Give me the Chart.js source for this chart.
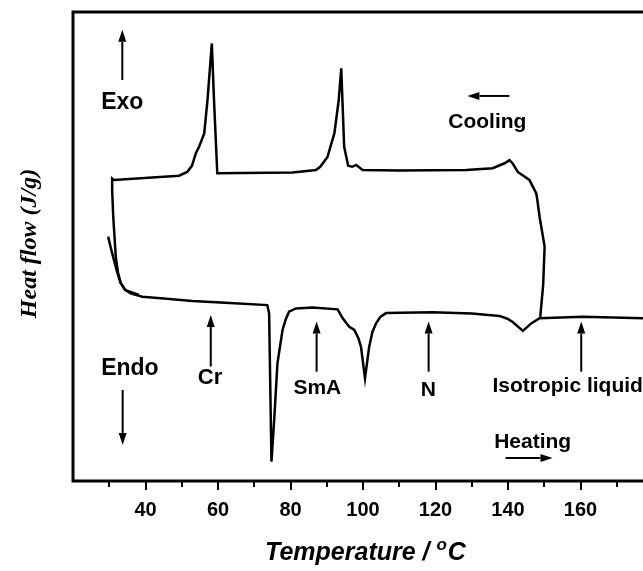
<!DOCTYPE html>
<html>
<head>
<meta charset="utf-8">
<script src="https://cdn.jsdelivr.net/npm/chart.js@4.4.1/dist/chart.umd.min.js"></script>
<style>
  html, body { margin: 0; padding: 0; background: #fff; overflow: hidden; }
  #dsc { display: block; }
</style>
</head>
<body>
<canvas id="dsc" width="680" height="571"></canvas>
<script>
// heating trace (lower curve), temperature in °C and heat flow in arbitrary units
const heatingTemp = [29.7, 30.4, 31.3, 32.2, 33.15, 34.3, 35.9, 39.1, 45, 52.9, 62, 73.6, 74.1, 74.75, 75.5, 76.4, 77.8, 78.7, 79.6, 81.5, 86.1, 93.0, 94.4, 96.2, 97.6, 98.7, 99.45, 100.55, 101.7, 102.6, 103.6, 104.8, 106.35, 119.2, 130, 137.65, 139.8, 141.3, 144.1, 146.4, 148.7, 160.7, 177.2, 180];
const heatingFlow = [5.21, 4.98, 4.71, 4.45, 4.22, 4.08, 4.0, 3.93, 3.89, 3.84, 3.80, 3.75, 3.58, 0.41, 1.30, 2.51, 3.22, 3.45, 3.61, 3.68, 3.70, 3.66, 3.47, 3.29, 3.22, 3.05, 2.86, 2.19, 2.86, 3.18, 3.36, 3.50, 3.58, 3.60, 3.57, 3.52, 3.46, 3.39, 3.20, 3.36, 3.47, 3.50, 3.47, 3.46];

// cooling trace (upper curve), listed in the order it was recorded
const coolingTemp = [148.9, 149.7, 150.1, 148.7, 148.1, 147.8, 145.9, 142.7, 141.3, 140.4, 139.2, 135.8, 128.45, 110, 99.9, 98.1, 97.0, 95.9, 94.8, 94.0, 93.3, 92.1, 90.2, 88.2, 87.0, 80.55, 59.8, 58.9, 58.3, 57.1, 56.2, 54.8, 53.9, 52.8, 51.5, 49.25, 31.3, 30.8, 30.8, 31.1, 31.8, 32.4, 33.15, 34.5, 38.2];
const coolingFlow = [3.50, 4.18, 5.00, 5.64, 5.99, 6.13, 6.42, 6.59, 6.77, 6.84, 6.78, 6.67, 6.63, 6.62, 6.63, 6.74, 6.70, 6.72, 7.13, 8.80, 8.12, 7.41, 6.91, 6.70, 6.63, 6.58, 6.56, 8.12, 9.33, 8.12, 7.41, 7.13, 6.99, 6.72, 6.59, 6.51, 6.42, 6.45, 6.2, 5.64, 4.78, 4.45, 4.22, 4.07, 3.97];

const tempTicks = [40, 60, 80, 100, 120, 140, 160];

// text labels placed in data coordinates (temperature, heat flow)
const notes = [
  { text: "Exo", t: 33.6, hf: 7.93, size: 23 },
  { text: "Cooling", t: 134.3, hf: 7.52, size: 21 },
  { text: "Endo", t: 35.7, hf: 2.26, size: 23 },
  { text: "Cr", t: 57.8, hf: 2.06, size: 22 },
  { text: "SmA", t: 87.4, hf: 1.85, size: 21 },
  { text: "N", t: 118.0, hf: 1.81, size: 21 },
  { text: "Isotropic liquid", t: 135.7, hf: 1.90, size: 21, align: "left" },
  { text: "Heating", t: 146.8, hf: 0.70, size: 21 },
];

// arrows: from (t1, hf1) to the head at (t2, hf2)
const arrows = [
  [33.6, 8.55, 33.6, 9.62],
  [140.4, 8.21, 128.8, 8.21],
  [33.7, 1.94, 33.7, 0.77],
  [58.0, 2.44, 58.0, 3.54],
  [87.2, 2.33, 87.2, 3.40],
  [118.1, 2.33, 118.1, 3.40],
  [160.2, 2.33, 160.2, 3.40],
  [139.3, 0.49, 152.3, 0.49],
];

const toPoints = (xs, ys) => xs.map((v, i) => ({ x: v, y: ys[i] }));

function drawArrow(ctx, x1, y1, x2, y2) {
  const ang = Math.atan2(y2 - y1, x2 - x1);
  const head = 12, half = 4;
  const bx = x2 - head * Math.cos(ang), by = y2 - head * Math.sin(ang);
  ctx.beginPath();
  ctx.moveTo(x1, y1);
  ctx.lineTo(bx, by);
  ctx.lineWidth = 2;
  ctx.stroke();
  ctx.beginPath();
  ctx.moveTo(x2, y2);
  ctx.lineTo(bx + half * Math.sin(ang), by - half * Math.cos(ang));
  ctx.lineTo(bx - half * Math.sin(ang), by + half * Math.cos(ang));
  ctx.closePath();
  ctx.fill();
}

const decor = {
  id: "decor",
  afterDraw(chart) {
    const { ctx, chartArea: a, scales: { x, y } } = chart;
    ctx.save();
    ctx.strokeStyle = "#000";
    ctx.fillStyle = "#000";

    // frame
    ctx.lineWidth = 3;
    ctx.strokeRect(a.left, a.top, a.right - a.left, a.bottom - a.top);

    // outward tick marks, long at labelled values
    ctx.lineWidth = 2;
    for (let v = 30; v <= 180; v += 10) {
      const px = Math.round(x.getPixelForValue(v));
      const len = tempTicks.includes(v) || v === 180 ? 9 : 6;
      ctx.beginPath();
      ctx.moveTo(px, a.bottom);
      ctx.lineTo(px, a.bottom + len);
      ctx.stroke();
    }

    // notes
    ctx.textBaseline = "alphabetic";
    notes.forEach((n) => {
      ctx.font = `bold ${n.size}px "Liberation Sans", Arial, sans-serif`;
      ctx.textAlign = n.align || "center";
      ctx.fillText(n.text, x.getPixelForValue(n.t), y.getPixelForValue(n.hf));
    });

    arrows.forEach(([t1, h1, t2, h2]) =>
      drawArrow(ctx, x.getPixelForValue(t1), y.getPixelForValue(h1), x.getPixelForValue(t2), y.getPixelForValue(h2))
    );

    // x title with superscript o
    const cx = (a.left + a.right) / 2 + 2;
    const base = 560;
    const main = "Temperature / ";
    ctx.font = 'italic bold 25px "Liberation Sans", Arial, sans-serif';
    const w1 = ctx.measureText(main).width;
    const w3 = ctx.measureText("C").width;
    ctx.font = 'italic bold 17px "Liberation Sans", Arial, sans-serif';
    const w2 = ctx.measureText("o").width;
    let sx = cx - (w1 + w2 + w3) / 2;
    ctx.textAlign = "left";
    ctx.font = 'italic bold 25px "Liberation Sans", Arial, sans-serif';
    ctx.fillText(main, sx, base);
    ctx.font = 'italic bold 17px "Liberation Sans", Arial, sans-serif';
    ctx.fillText("o", sx + w1, base - 10);
    ctx.font = 'italic bold 25px "Liberation Sans", Arial, sans-serif';
    ctx.fillText("C", sx + w1 + w2 + 1, base);

    // y title
    ctx.translate(30, (a.top + a.bottom) / 2 - 3);
    ctx.rotate(-Math.PI / 2);
    ctx.textAlign = "center";
    ctx.textBaseline = "middle";
    ctx.font = 'italic bold 24px "Liberation Serif", "Times New Roman", serif';
    ctx.fillText("Heat flow (J/g)", 0, 0);
    ctx.restore();
  },
};

new Chart(document.getElementById("dsc"), {
  type: "line",
  data: {
    datasets: [
      {
        label: "Heating",
        data: toPoints(heatingTemp, heatingFlow),
        borderColor: "#000",
        borderWidth: 2.5,
        pointRadius: 0,
        tension: 0,
        fill: false,
      },
      {
        label: "Cooling",
        data: toPoints(coolingTemp, coolingFlow),
        borderColor: "#000",
        borderWidth: 2.5,
        pointRadius: 0,
        tension: 0,
        fill: false,
      },
    ],
  },
  options: {
    responsive: false,
    animation: false,
    devicePixelRatio: 1,
    layout: { padding: { left: 73, top: 12, right: 27, bottom: 0 } },
    plugins: { legend: { display: false }, tooltip: { enabled: false } },
    scales: {
      x: {
        type: "linear",
        min: 20,
        max: 180,
        grid: { display: false, drawTicks: false },
        border: { display: false },
        afterFit: (scale) => { scale.height = 90; },
        ticks: {
          stepSize: 10,
          autoSkip: false,
          maxRotation: 0,
          padding: 17,
          color: "#000",
          font: { family: '"Liberation Sans", Arial, sans-serif', size: 20, weight: "bold" },
          callback: (v) => (tempTicks.includes(v) ? v : ""),
        },
      },
      y: { display: false, min: 0, max: 10 },
    },
  },
  plugins: [decor],
});
</script>
</body>
</html>
